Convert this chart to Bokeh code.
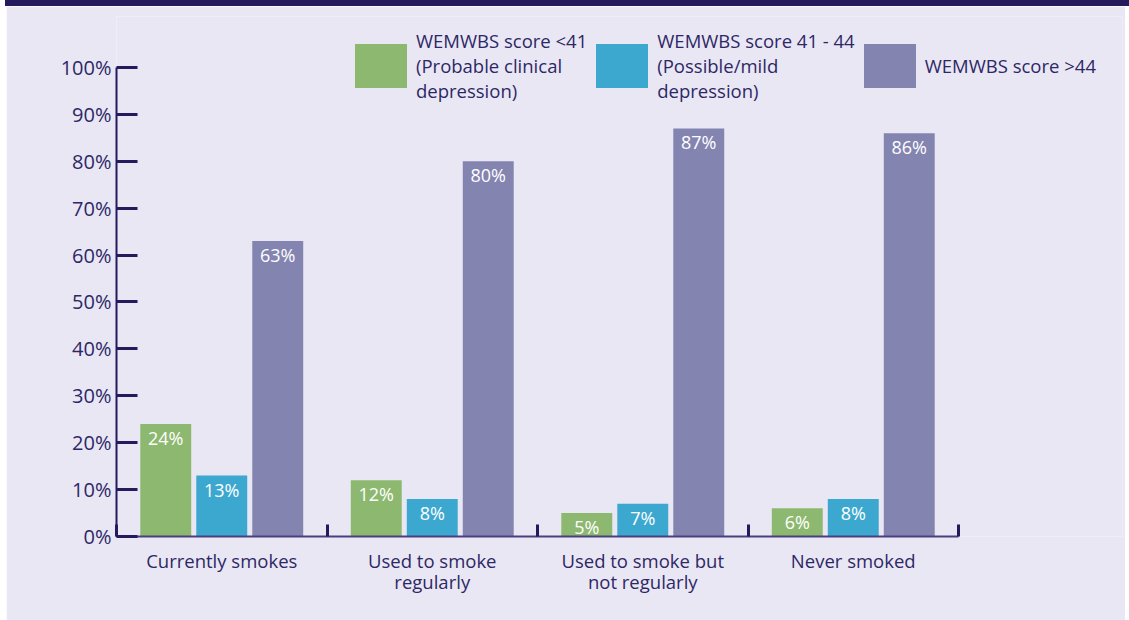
from bokeh.plotting import figure
from bokeh.models import (Range1d, LinearAxis, FixedTicker, PrintfTickFormatter,
                          Legend, LegendItem, Div, ColumnDataSource)
from bokeh.layouts import column
from bokeh.embed import file_html
from bokeh.resources import INLINE
from bokeh.core.properties import value

# ---- data ----
categories = ["Currently smokes", "Used to smoke\nregularly",
              "Used to smoke but\nnot regularly", "Never smoked"]
series_names = ["WEMWBS score <41\n(Probable clinical\ndepression)",
                "WEMWBS score 41 - 44\n(Possible/mild\ndepression)",
                "WEMWBS score >44"]
score_lt41 = [24, 12, 5, 6]
score_41_44 = [13, 8, 7, 8]
score_gt44 = [63, 80, 87, 86]
y_ticks = [0, 10, 20, 30, 40, 50, 60, 70, 80, 90, 100]

# ---- style ----
BG = "#E9E7F4"
NAVY = "#241B5D"
TXT = "#2E2766"
COLORS = ["#8DB86F", "#3CA8CF", "#8484B1"]
FONT = "Open Sans"

n = len(categories)
p = figure(width=1119, height=614, output_backend="svg", toolbar_location=None,
           x_range=Range1d(0, 4.779), y_range=Range1d(0, 110.87),
           min_border_left=110, min_border_right=3, min_border_top=10,
           min_border_bottom=84, x_axis_type=None, y_axis_type=None,
           margin=(0, 0, 0, 6))
p.background_fill_color = BG
p.border_fill_color = BG
p.outline_line_color = None
p.grid.visible = False

offsets = [-0.266, 0.0, 0.266]
bar_w = 0.242
series = [score_lt41, score_41_44, score_gt44]
renderers = []
for k, vals in enumerate(series):
    xs = [i + 0.5 + offsets[k] for i in range(n)]
    src = ColumnDataSource(dict(x=xs, top=vals, lab=[f"{v}%" for v in vals]))
    r = p.vbar(x="x", top="top", bottom=0, width=bar_w, source=src,
               fill_color=COLORS[k], line_color=None)
    renderers.append(r)
    p.text(x="x", y="top", text="lab", source=src, text_color="white",
           text_align="center", text_baseline="middle", y_offset=14,
           text_font=value(FONT), text_font_size="18px")

# y axis
yax = LinearAxis(ticker=FixedTicker(ticks=y_ticks, minor_ticks=[]),
                 formatter=PrintfTickFormatter(format="%d%%"), bounds=(0, 100))
yax.axis_line_color = NAVY
yax.axis_line_width = 2
yax.major_tick_line_color = NAVY
yax.major_tick_line_width = 3
yax.major_tick_in = 21
yax.major_tick_out = 0
yax.minor_tick_line_color = None
yax.major_label_standoff = 5
yax.major_label_text_font = FONT
yax.major_label_text_font_size = "20px"
yax.major_label_text_color = TXT
p.add_layout(yax, "left")

# x axis
xax = LinearAxis(ticker=FixedTicker(ticks=[i + 0.5 for i in range(n)],
                                    minor_ticks=list(range(n + 1))),
                 bounds=(0, n))
xax.major_label_overrides = {i + 0.5: c for i, c in enumerate(categories)}
xax.axis_line_color = "#4A4080"
xax.axis_line_width = 2
xax.major_tick_line_color = None
xax.major_tick_in = 0
xax.major_tick_out = 0
xax.minor_tick_line_color = NAVY
xax.minor_tick_line_width = 3
xax.minor_tick_in = 12
xax.minor_tick_out = 0
xax.major_label_standoff = 11
xax.major_label_text_font = FONT
xax.major_label_text_font_size = "18.5px"
xax.major_label_text_color = TXT
xax.major_label_text_line_height = 0.87
p.add_layout(xax, "below")

legend = Legend(items=[LegendItem(label=series_names[k], renderers=[renderers[k]])
                       for k in range(3)],
                orientation="horizontal", location=(232, 433),
                glyph_width=65, glyph_height=55, label_standoff=3, spacing=2,
                padding=0, margin=0, border_line_color=None,
                background_fill_alpha=0,
                label_text_font=FONT, label_text_font_size="18.5px",
                label_text_color=TXT)
p.add_layout(legend)

topbar = Div(text="", width=1124, height=6, margin=(0, 0, 0, 5),
             styles={"background-color": NAVY})
layout = column(topbar, p, spacing=0)

open("out.html", "w").write(file_html(layout, INLINE))
